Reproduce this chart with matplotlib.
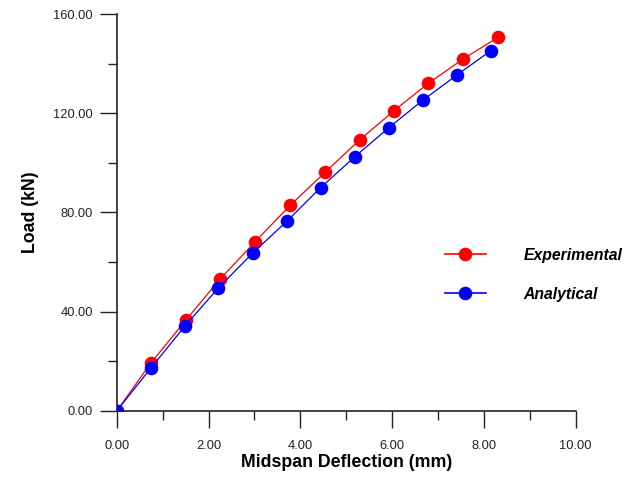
import numpy as np
import matplotlib.pyplot as plt
from matplotlib.ticker import MultipleLocator, FormatStrFormatter

plt.rcParams['font.family'] = ['Liberation Sans', 'DejaVu Sans']

# deflection (mm) and load (kN)
exp_defl = [0.0, 0.74, 1.51, 2.25, 3.01, 3.78, 4.54, 5.29, 6.04, 6.79, 7.55, 8.31]
exp_load = [0.0, 19.2, 36.7, 53.1, 68.1, 82.9, 96.2, 109.2, 121.0, 132.1, 141.9, 150.6]
ana_defl = [0.0, 0.74, 1.49, 2.21, 2.96, 3.72, 4.44, 5.19, 5.93, 6.68, 7.41, 8.15]
ana_load = [0.0, 17.2, 34.3, 49.5, 63.6, 76.7, 90.0, 102.5, 114.2, 125.4, 135.4, 145.2]

fig = plt.figure(figsize=(6.44, 4.78), dpi=100)
ax = fig.add_axes([0.1812, 0.1402, 0.7128, 0.8305])

ax.plot(exp_defl, exp_load, '-o', color='#ff0000', lw=0.9, ms=9.8,
        markeredgewidth=0, label='Experimental')
ax.plot(ana_defl, ana_load, '-o', color='#0000ff', lw=0.9, ms=9.8,
        markeredgewidth=0, label='Analytical')

ax.set_xlim(0, 10)
ax.set_ylim(0, 160)
for s in ['top', 'right']:
    ax.spines[s].set_visible(False)
for s in ['left', 'bottom']:
    ax.spines[s].set_linewidth(1.2)
    ax.spines[s].set_color('#222222')
    ax.spines[s].set_zorder(0)

ax.xaxis.set_major_locator(MultipleLocator(2))
ax.xaxis.set_minor_locator(MultipleLocator(1))
ax.yaxis.set_major_locator(MultipleLocator(40))
ax.yaxis.set_minor_locator(MultipleLocator(20))
ax.xaxis.set_major_formatter(FormatStrFormatter('%.2f'))
ax.yaxis.set_major_formatter(FormatStrFormatter('%.2f'))
ax.tick_params(which='major', direction='out', length=12, width=1.0,
               color='#222222', labelsize=9.3, labelcolor='#222222')
ax.tick_params(which='minor', direction='out', length=6.5, width=1.0, color='#222222')
ax.tick_params(axis='x', which='major', pad=9)
ax.tick_params(axis='y', which='major', pad=5)

ax.set_xlabel('Midspan Deflection (mm)', fontsize=12.8, fontweight='bold', labelpad=1)
ax.set_ylabel('Load (kN)', fontsize=12.8, fontweight='bold', labelpad=10)

leg = ax.legend(loc='upper left', bbox_to_anchor=(0.684, 0.447), frameon=False,
                prop={'weight': 'bold', 'style': 'italic', 'size': 11.3},
                handlelength=2.6, handletextpad=2.4, labelspacing=1.55)
for h in leg.legend_handles:
    h.set_linewidth(1.2)

fig.savefig('out.png', dpi=100)
